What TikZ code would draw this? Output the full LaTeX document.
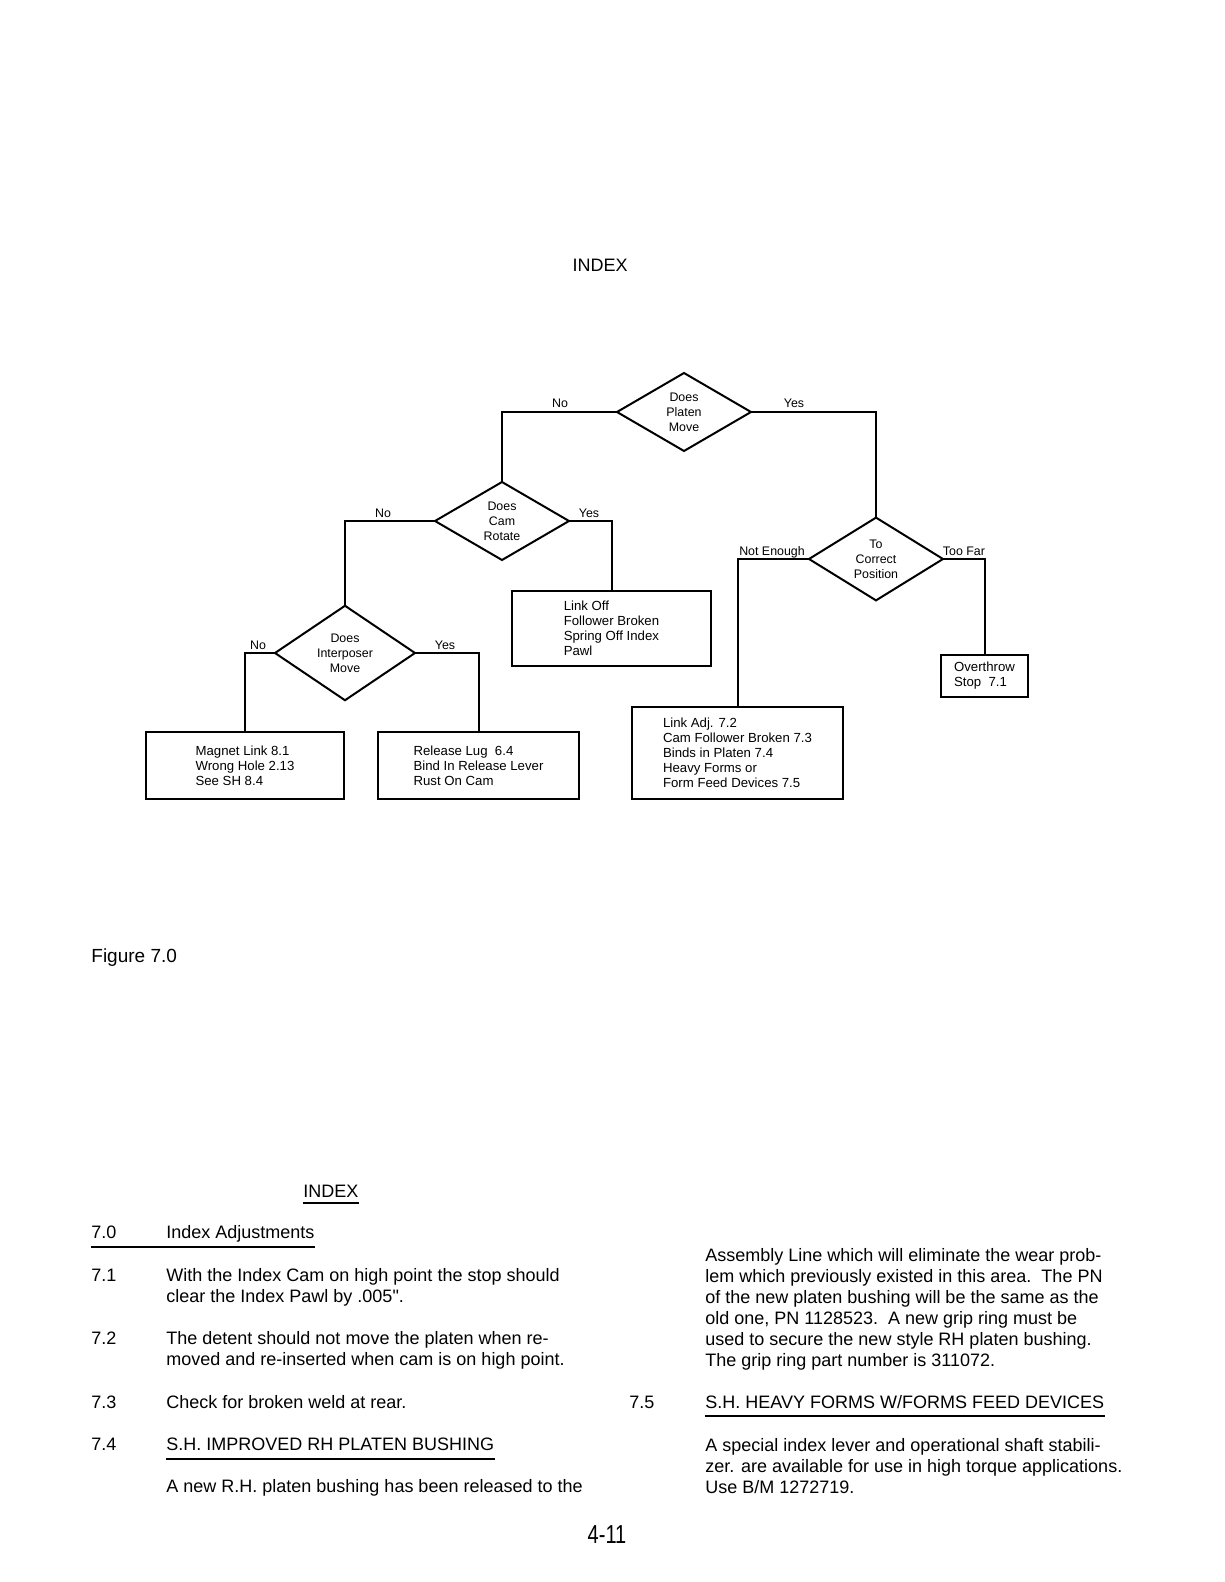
\documentclass[tikz,border=0pt]{standalone}
\usepackage{fontspec}
\setmainfont{Liberation Sans}[Ligatures=TeXOff]
\usetikzlibrary{shapes.geometric}
\begin{document}
\begin{tikzpicture}[x=0.5pt,y=-0.5pt,
  dec/.style={diamond, draw, line width=1pt, inner sep=0pt, outer sep=0pt, align=center, font=\fontsize{6.2}{7.5}\selectfont},
  box/.style={rectangle, draw, line width=1.1pt, inner sep=0pt, outer sep=0pt, align=left, font=\fontsize{6.6}{7.5}\selectfont},
  lab/.style={anchor=base, inner sep=0pt, font=\fontsize{6.2}{7.5}\selectfont},
  conn/.style={line width=1pt},
  body/.style={anchor=base west, inner sep=0pt, font=\fontsize{9}{10.5}\selectfont},
  uline/.style={line width=0.8pt}]
\useasboundingbox[fill=white] (0,0) rectangle (1224,1582);

% title
\node[anchor=base, inner sep=0pt, font=\fontsize{9}{10}\selectfont] (title) at (600,272) {INDEX};

% decisions
\node[dec, minimum width=67pt, minimum height=39pt] (plat) at (684,412) {Does\\Platen\\Move};
\node[dec, minimum width=67pt, minimum height=39pt] (cam) at (502,521) {Does\\Cam\\Rotate};
\node[dec, minimum width=70pt, minimum height=40pt] (inter) at (345,653) {Does\\Interposer\\Move};
\node[dec, minimum width=67pt, minimum height=38pt] (pos) at (876,559) {To\\Correct\\Position};

% result boxes
\node[box, minimum width=99pt, minimum height=33.5pt] (b1) at (245,765.5) {Magnet Link 8.1\\Wrong Hole 2.13\\See SH 8.4};
\node[box, minimum width=100.5pt, minimum height=33.5pt] (b2) at (478.5,765.5) {Release Lug\ \ 6.4\\Bind In Release Lever\\Rust On Cam};
\node[box, minimum width=99.5pt, minimum height=37.5pt] (bl) at (611.5,628.5) {Link Off\\Follower Broken\\Spring Off Index\\Pawl};
\node[box, minimum width=105.5pt, minimum height=46pt] (b3) at (737.5,753) {Link Adj. 7.2\\Cam Follower Broken 7.3\\Binds in Platen 7.4\\Heavy Forms or\\Form Feed Devices 7.5};
\node[box, minimum width=43.5pt, minimum height=21pt] (bo) at (984.5,676) {Overthrow\\Stop\ \ 7.1};

% connectors
\draw[conn] (plat.west) -| (cam.north);
\draw[conn] (plat.east) -| (pos.north);
\draw[conn] (cam.west) -| (inter.north);
\draw[conn] (cam.east) -| (bl.north);
\draw[conn] (inter.west) -| (b1.north);
\draw[conn] (inter.east) -| (b2.north);
\draw[conn] (pos.west) -| (b3.north);
\draw[conn] (pos.east) -| (bo.north);

% labels
\node[lab] (lno1) at (560,408) {No};
\node[lab] (lyes1) at (794,408) {Yes};
\node[lab] (lno2) at (383,517) {No};
\node[lab] (lyes2) at (589,517) {Yes};
\node[lab] (lno3) at (258,649) {No};
\node[lab] (lyes3) at (445,649) {Yes};
\node[lab] (lne) at (772,555) {Not Enough};
\node[lab] (ltf) at (964,555) {Too Far};

% figure caption
\node[anchor=base west, inner sep=0pt, font=\fontsize{9.5}{11}\selectfont] (fig) at (91,962) {Figure 7.0};

% lower text
\node[body] (idx) at (303,1197) {INDEX};
\draw[uline] ([yshift=-3pt]idx.base west) -- ([yshift=-3pt]idx.base east);

\node[body] (n70) at (91,1238) {7.0};
\node[body] (t70) at (166,1238) {Index Adjustments};
\draw[uline] ([yshift=-4.5pt]n70.base west) -- ([yshift=-4.5pt]t70.base east);

\node[body] (n71) at (91,1281) {7.1};
\node[body] (t71a) at (166,1281) {With the Index Cam on high point the stop should};
\node[body] (t71b) at (166,1302) {clear the Index Pawl by .005".};

\node[body] (n72) at (91,1344) {7.2};
\node[body] (t72a) at (166,1344) {The detent should not move the platen when re-};
\node[body] (t72b) at (166,1365) {moved and re-inserted when cam is on high point.};

\node[body] (n73) at (91,1408) {7.3};
\node[body] (t73) at (166,1408) {Check for broken weld at rear.};

\node[body] (n74) at (91,1450) {7.4};
\node[body] (t74) at (166,1450) {S.H. IMPROVED RH PLATEN BUSHING};
\draw[uline] ([yshift=-4.5pt]t74.base west) -- ([yshift=-4.5pt]t74.base east);
\node[body] (t74b) at (166,1492) {A new R.H. platen bushing has been released to the};

\node[body] (r1) at (705,1261) {Assembly Line which will eliminate the wear prob-};
\node[body] (r2) at (705,1282) {lem which previously existed in this area.\ \ The PN};
\node[body] (r3) at (705,1303) {of the new platen bushing will be the same as the};
\node[body] (r4) at (705,1324) {old one, PN 1128523.\ \ A new grip ring must be};
\node[body] (r5) at (705,1345) {used to secure the new style RH platen bushing.};
\node[body] (r6) at (705,1366) {The grip ring part number is 311072.};

\node[body] (n75) at (629,1408) {7.5};
\node[body] (t75) at (705,1408) {S.H. HEAVY FORMS W/FORMS FEED DEVICES};
\draw[uline] ([yshift=-4pt]t75.base west) -- ([yshift=-4pt]t75.base east);

\node[body] (r7) at (705,1451) {A special index lever and operational shaft stabili-};
\node[body] (r8) at (705,1472) {zer. are available for use in high torque applications.};
\node[body] (r9) at (705,1493) {Use B/M 1272719.};

% page number
\node[inner sep=0pt, font=\fontsize{13}{14}\selectfont] (pg) at (607,1535) {\scalebox{0.77}[1]{4-11}};
\end{tikzpicture}
\end{document}
